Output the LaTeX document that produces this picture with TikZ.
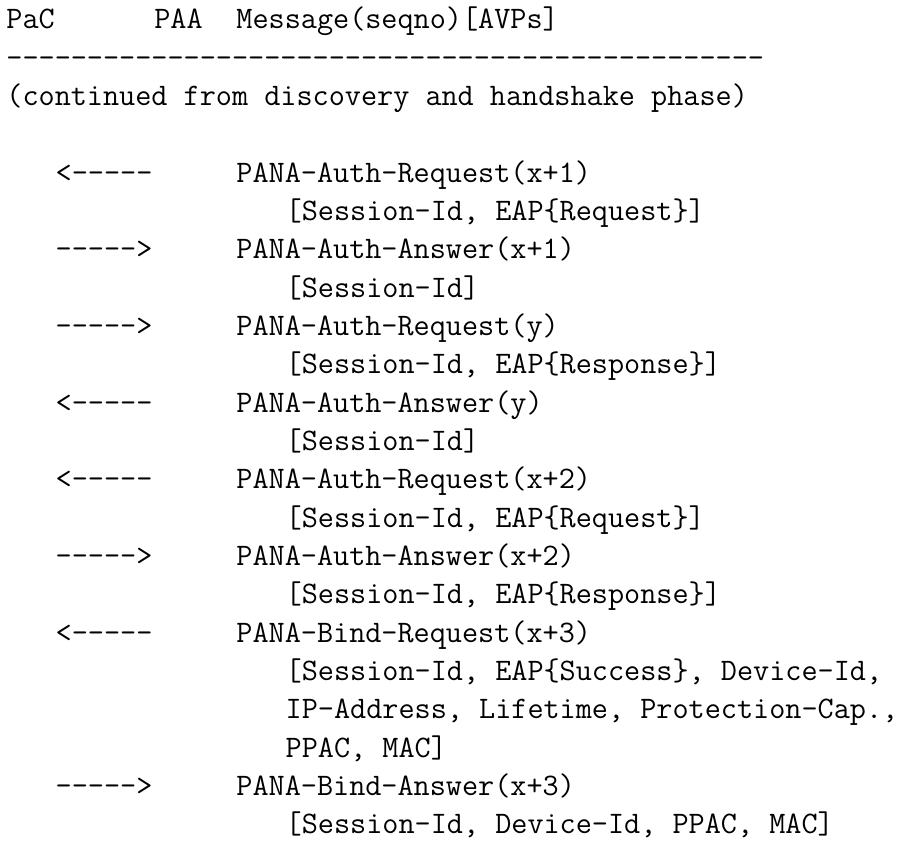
\documentclass[tikz,border=0pt]{standalone}
\usepackage{fontspec}
\begin{document}
\begin{tikzpicture}[x=1pt,y=1pt,
  ln/.style={anchor=base west,inner sep=0pt,outer sep=0pt,
    font=\fontsize{31.3}{38.3}\selectfont\ttfamily}]
% character cell width, line pitch, left edge and first baseline
\def\cw{16.43}
\def\lh{38.33}
\def\xo{6.4}
\def\yo{814}
\useasboundingbox (0,0) rectangle (906,843);
\newcommand{\at}[2]{(\xo+#1*\cw,\yo-#2*\lh)}
% header
\node[ln] (hpac) at \at{0}{0} {PaC};
\node[ln] (hpaa) at \at{9}{0} {PAA};
\node[ln] (hmsg) at \at{14}{0} {Message(seqno)[AVPs]};
\node[ln] (hrule) at \at{0}{1} {-----------------------------------------------};
\node[ln] (hcont) at \at{0}{2} {(continued from discovery and handshake phase)};
% exchange
\node[ln] (a1) at \at{3}{4} {<-----};
\node[ln] (m1) at \at{14}{4} {PANA-Auth-Request(x+1)};
\node[ln] (p1) at \at{17}{5} {[Session-Id, EAP\{Request\}]};
\node[ln] (a2) at \at{3}{6} {----->};
\node[ln] (m2) at \at{14}{6} {PANA-Auth-Answer(x+1)};
\node[ln] (p2) at \at{17}{7} {[Session-Id]};
\node[ln] (a3) at \at{3}{8} {----->};
\node[ln] (m3) at \at{14}{8} {PANA-Auth-Request(y)};
\node[ln] (p3) at \at{17}{9} {[Session-Id, EAP\{Response\}]};
\node[ln] (a4) at \at{3}{10} {<-----};
\node[ln] (m4) at \at{14}{10} {PANA-Auth-Answer(y)};
\node[ln] (p4) at \at{17}{11} {[Session-Id]};
\node[ln] (a5) at \at{3}{12} {<-----};
\node[ln] (m5) at \at{14}{12} {PANA-Auth-Request(x+2)};
\node[ln] (p5) at \at{17}{13} {[Session-Id, EAP\{Request\}]};
\node[ln] (a6) at \at{3}{14} {----->};
\node[ln] (m6) at \at{14}{14} {PANA-Auth-Answer(x+2)};
\node[ln] (p6) at \at{17}{15} {[Session-Id, EAP\{Response\}]};
\node[ln] (a7) at \at{3}{16} {<-----};
\node[ln] (m7) at \at{14}{16} {PANA-Bind-Request(x+3)};
\node[ln] (p7a) at \at{17}{17} {[Session-Id, EAP\{Success\}, Device-Id,};
\node[ln] (p7b) at \at{17}{18} {IP-Address, Lifetime, Protection-Cap.,};
\node[ln] (p7c) at \at{17}{19} {PPAC, MAC]};
\node[ln] (a8) at \at{3}{20} {----->};
\node[ln] (m8) at \at{14}{20} {PANA-Bind-Answer(x+3)};
\node[ln] (p8) at \at{17}{21} {[Session-Id, Device-Id, PPAC, MAC]};
\end{tikzpicture}
\end{document}
